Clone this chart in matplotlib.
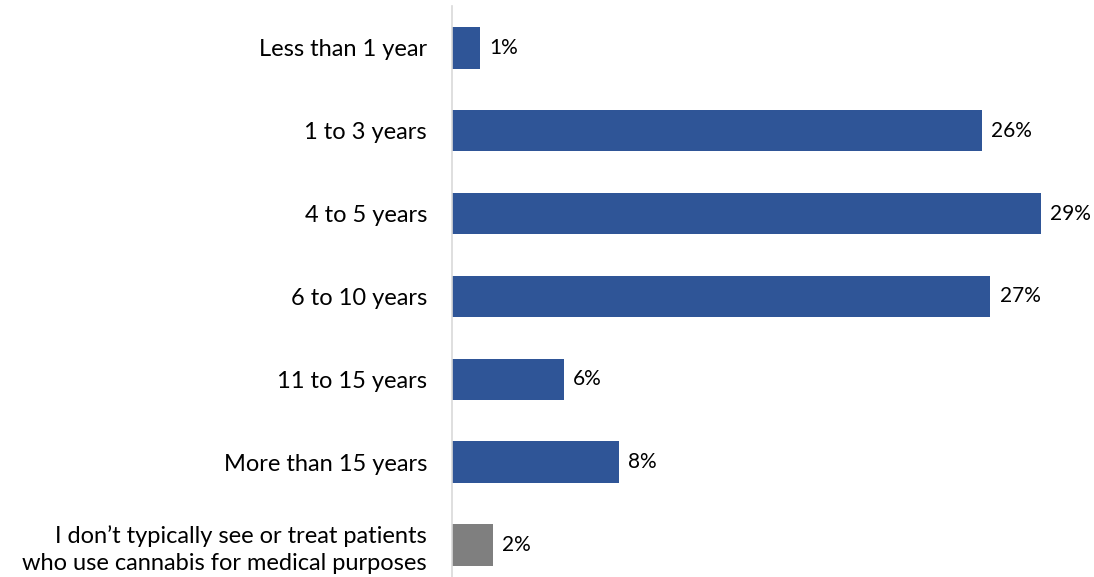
import matplotlib.pyplot as plt

# -- data
categories = ['Less than 1 year', '1 to 3 years', '4 to 5 years', '6 to 10 years',
              '11 to 15 years', 'More than 15 years',
              'I don\u2019t typically see or treat patients\nwho use cannabis for medical purposes']
values = [1.4, 26.1, 29.0, 26.5, 5.5, 8.2, 2.0]
value_labels = ['1%', '26%', '29%', '27%', '6%', '8%', '2%']
bar_colors = ['#2F5597'] * 6 + ['#7F7F7F']

plt.rcParams['font.family'] = ['Lato', 'DejaVu Sans']

fig = plt.figure(figsize=(10.94, 5.77), dpi=100)
ax = fig.add_axes([452 / 1094, 0.0, 1 - 452 / 1094, 571 / 577])

y = list(range(len(categories)))
ax.barh(y, values, height=0.5, color=bar_colors)

# value labels to the right of each bar
for yi, v, lab in zip(y, values, value_labels):
    ax.text(v + 0.45, yi, lab, va='center', ha='left', fontsize=15, color='#000000')

ax.set_yticks(y)
ax.set_yticklabels(categories, fontsize=17, color='#000000', ha='right', linespacing=1.35)
ax.tick_params(axis='y', length=0, pad=18)

ax.set_xlim(0, 31.6)
ax.set_ylim(6 + 32 / 83, -(48 - 6) / 83)
ax.set_xticks([])

for s in ['top', 'right', 'bottom']:
    ax.spines[s].set_visible(False)
ax.spines['left'].set_color('#D9D9D9')
ax.spines['left'].set_linewidth(1.2)

fig.savefig('out.png', dpi=100)
